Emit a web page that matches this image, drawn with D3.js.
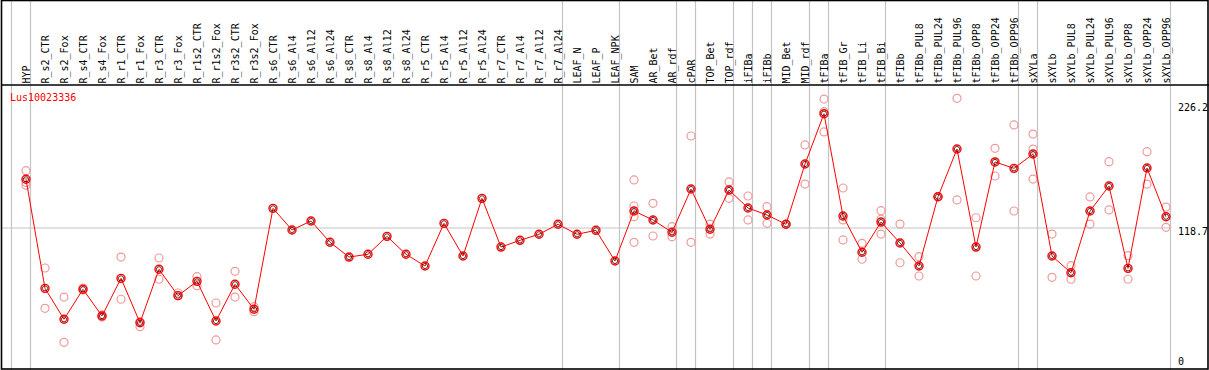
<!DOCTYPE html>
<html>
<head>
<meta charset="utf-8">
<script src="https://cdn.jsdelivr.net/npm/d3@7"></script>
<style>
  html, body { margin: 0; padding: 0; background: #fff; }
  svg { display: block; }
  text { font-family: "DejaVu Sans Mono", monospace; font-size: 10px; }
</style>
</head>
<body>
<div id="chart"></div>
<script>
// expression profile for one gene across tissue samples

const gene = "Lus10023336";

const samples = [
  "HYP", "R_s2_CTR", "R_s2_Fox", "R_s4_CTR", "R_s4_Fox", "R_r1_CTR", "R_r1_Fox",
  "R_r3_CTR", "R_r3_Fox", "R_r1s2_CTR", "R_r1s2_Fox", "R_r3s2_CTR", "R_r3s2_Fox",
  "R_s6_CTR", "R_s6_Al4", "R_s6_Al12", "R_s6_Al24", "R_s8_CTR", "R_s8_Al4", "R_s8_Al12",
  "R_s8_Al24", "R_r5_CTR", "R_r5_Al4", "R_r5_Al12", "R_r5_Al24", "R_r7_CTR", "R_r7_Al4",
  "R_r7_Al12", "R_r7_Al24", "LEAF_N", "LEAF_P", "LEAF_NPK", "SAM", "AR_Bet", "AR_rdf",
  "cPAR", "TOP_Bet", "TOP_rdf", "iFIBa", "iFIBb", "MID_Bet", "MID_rdf", "tFIBa",
  "tFIB_Gr", "tFIB_Li", "tFIB_Bi", "tFIBb", "tFIBb_PUL8", "tFIBb_PUL24", "tFIBb_PUL96",
  "tFIBb_OPP8", "tFIBb_OPP24", "tFIBb_OPP96", "sXYLa", "sXYLb", "sXYLb_PUL8",
  "sXYLb_PUL24", "sXYLb_PUL96", "sXYLb_OPP8", "sXYLb_OPP24", "sXYLb_OPP96"
];

// mean expression per sample
const means = [
  160.6, 66.8, 40.2, 66.0, 43.0, 75.4, 37.2, 83.2, 60.5, 72.8, 38.7, 70.3, 48.8,
  135.6, 117.0, 124.7, 106.4, 93.7, 96.1, 111.5, 96.1, 86.0, 122.7, 94.6, 144.2,
  102.3, 108.1, 113.3, 121.9, 113.3, 116.7, 90.3, 133.3, 125.6, 115.0, 152.2,
  117.6, 151.4, 135.9, 129.9, 121.9, 173.7, 217.0, 129.0, 97.8, 123.8, 105.8,
  86.0, 145.6, 186.6, 102.3, 175.5, 170.0, 182.3, 94.6, 80.2, 133.3, 154.8,
  84.0, 170.3, 128.4
];

// individual replicates per sample
const replicates = [
  [168.0, 157.9, 155.4], [84.3, 49.6], [59.3, 20.4], [67.1, 65.4], [43.9, 42.1],
  [93.7, 57.4], [38.1, 33.8], [92.9, 74.6], [62.8, 60.5], [76.8, 69.1],
  [54.2, 22.4], [81.4, 59.3], [51.0, 46.7],
  [], [], [], [], [], [], [], [], [], [], [], [], [], [], [], [], [], [], [],
  [160.0, 137.6, 128.4, 106.4], [139.9, 111.8], [119.8, 111.2], [197.8, 106.4],
  [122.1, 113.5], [158.3, 144.2], [146.2, 125.6], [137.0, 122.7], [121.9, 121.9],
  [190.1, 156.5], [229.6, 218.7, 201.3], [153.1, 125.6, 108.4], [105.5, 91.8],
  [133.6, 126.2, 113.5], [122.1, 88.8], [94.0, 77.4], [145.6, 145.6],
  [230.2, 142.8], [127.5, 77.4], [187.2, 163.4], [207.3, 133.3],
  [199.5, 186.6, 160.8], [113.5, 76.3], [86.3, 74.6], [145.4, 122.1],
  [175.7, 134.2], [94.9, 74.6], [184.3, 156.5], [136.7, 119.3]
];

// group boundaries: a grey rule is drawn before each of these samples
const groupStarts = ["HYP", "R_s2_CTR", "LEAF_N", "SAM", "cPAR", "TOP_Bet", "iFIBa",
  "iFIBb", "MID_Bet", "tFIBa", "tFIB_Gr", "tFIBb", "sXYLa", "sXYLb"];

const yTicks = [0, 118.7, 226.2];
const refLine = 118.7;

const W = 1209, H = 370;
const headerY = 85;
const left = 11.5, colW = 19;

const svg = d3.select("#chart").append("svg")
  .attr("width", W).attr("height", H);

const xBand = d3.scaleBand().domain(samples)
  .range([left, left + samples.length * colW]).padding(0);
const xPos = s => xBand(s) + 14.5;
const plotRight = left + samples.length * colW;

const y = d3.scaleLinear().domain([0, 226.2]).range([366, 103]);

// grey group rules
const rules = groupStarts.map(s => xBand(s)).concat([plotRight]);
svg.append("g").selectAll("line").data(rules).join("line")
  .attr("x1", d => d).attr("x2", d => d)
  .attr("y1", 0).attr("y2", H)
  .attr("stroke", "#c4c4c4").attr("stroke-width", 1.2);

// reference line
svg.append("line")
  .attr("x1", 2).attr("x2", plotRight)
  .attr("y1", y(refLine)).attr("y2", y(refLine))
  .attr("stroke", "#c4c4c4").attr("stroke-width", 1.2);

// frame and header separator
svg.append("rect")
  .attr("x", 1.5).attr("y", 0.5).attr("width", W - 2.5).attr("height", H - 1.5)
  .attr("fill", "none").attr("stroke", "#000").attr("stroke-width", 1.6);
svg.append("line")
  .attr("x1", 1.5).attr("x2", W).attr("y1", headerY).attr("y2", headerY)
  .attr("stroke", "#000").attr("stroke-width", 1.6);

// sample labels (vertical)
svg.append("g").selectAll("text").data(samples).join("text")
  .attr("transform", d => `translate(${xPos(d) + 3.8},83.5) rotate(-90)`)
  .attr("fill", "#000")
  .text(d => d);

// gene name
svg.append("text").attr("x", 10).attr("y", 101)
  .attr("fill", "#f00").text(gene);

// y labels on the right
svg.append("g").selectAll("text").data(yTicks).join("text")
  .attr("x", 1178)
  .attr("y", d => Math.min(y(d) + 7.5, 365))
  .attr("fill", "#000")
  .text(d => d);

// replicate circles
const repPts = replicates.flatMap((r, i) => r.map(v => ({ s: samples[i], v })));
svg.append("g").selectAll("circle").data(repPts).join("circle")
  .attr("cx", d => xPos(d.s)).attr("cy", d => y(d.v)).attr("r", 4)
  .attr("fill", "none").attr("stroke", "#ef9a9a").attr("stroke-width", 1.2);

// mean line
const line = d3.line().x((d, i) => xPos(samples[i])).y(d => y(d));
svg.append("path").datum(means)
  .attr("d", line).attr("fill", "none")
  .attr("stroke", "#f00").attr("stroke-width", 1);

// mean markers
const gMean = svg.append("g");
gMean.selectAll("circle.in").data(means).join("circle").attr("class", "in")
  .attr("cx", (d, i) => xPos(samples[i])).attr("cy", d => y(d)).attr("r", 2.6)
  .attr("fill", "none").attr("stroke", "#300").attr("stroke-width", 0.8);
gMean.selectAll("circle.out").data(means).join("circle").attr("class", "out")
  .attr("cx", (d, i) => xPos(samples[i])).attr("cy", d => y(d)).attr("r", 4)
  .attr("fill", "none").attr("stroke", "#f00").attr("stroke-width", 1.4);
</script>
</body>
</html>
